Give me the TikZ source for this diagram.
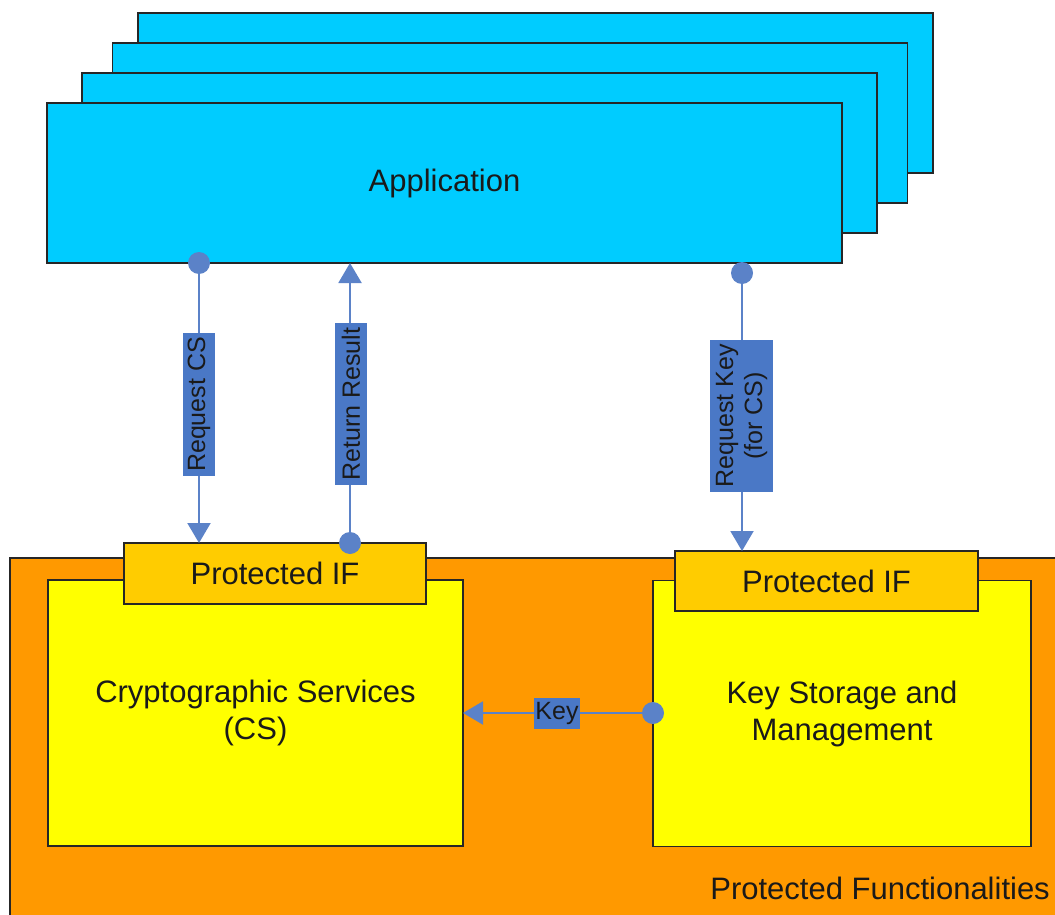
\documentclass[tikz,border=0pt]{standalone}
\usepackage{fontspec}
\setmainfont{Liberation Sans}
\usetikzlibrary{arrows.meta,calc}
\definecolor{appblue}{HTML}{00CCFF}
\definecolor{pforange}{HTML}{FF9900}
\definecolor{csyellow}{HTML}{FFFF00}
\definecolor{ifgold}{HTML}{FFCC00}
\definecolor{conn}{HTML}{5B82C8}
\definecolor{lblbg}{HTML}{4A78C6}
\definecolor{txt}{HTML}{1A1A1A}
\begin{document}
\begin{tikzpicture}[x=1pt,y=-1pt,
  box/.style={draw=black!85, line width=1.5pt, inner sep=0pt, outer sep=0pt, text=txt, align=center,
     font=\fontsize{31}{37}\selectfont},
  appbox/.style={box, fill=appblue, minimum width=795pt, minimum height=160pt},
  ifbox/.style={box, fill=ifgold, minimum width=302pt, minimum height=61pt},
  fbox/.style={box, fill=csyellow, minimum height=266pt},
  conline/.style={draw=conn, line width=2pt, -{Triangle[width=23pt,length=20pt]}},
  lbl/.style={fill=lblbg, text=txt, inner sep=3pt, align=center, font=\fontsize{25}{27}\selectfont},
  dot/.style={fill=conn}
]
\useasboundingbox (0,0) rectangle (1055,915);
\clip (0,0) rectangle (1055,915);
\fill[white] (0,0) rectangle (1055,915);

% stacked applications
\node[appbox] (app4) at (535.5,93) {};
\node[appbox] (app3) at (510,123) {};
\node[appbox] (app2) at (479.5,153) {};
\node[appbox] (app) at (444.5,183) {Application};

% protected functionalities
\node[box, fill=pforange, anchor=north west, minimum width=1070pt, minimum height=380pt] (pf) at (10,558) {};
\node[anchor=east, text=txt, font=\fontsize{31}{37}\selectfont, inner sep=0pt] (pflabel) at (1050,888) {Protected Functionalities};

\node[fbox, minimum width=415pt] (cs) at (255.5,713) {Cryptographic Services\\(CS)};
\node[fbox, minimum width=378pt] (ks) at (842,713.5) {Key Storage and\\Management};
\node[ifbox] (ifL) at (275,573.5) {Protected IF};
\node[ifbox, minimum width=303pt, minimum height=60pt] (ifR) at (826.5,581) {Protected IF};

% x positions of connectors
\coordinate (xa) at (199,0);
\coordinate (xb) at (350,0);
\coordinate (xc) at (742,0);
\coordinate (yk) at (0,713);
\coordinate (kstart) at (742,273);

% Request CS
\draw[conline] (app.south -| xa) -- (ifL.north -| xa);
\fill[dot] (app.south -| xa) circle[radius=11pt];
\node[lbl, rotate=90, minimum width=143pt, minimum height=32pt, inner sep=0pt] (lrcs) at (199,404.5) {Request CS};

% Return Result
\draw[conline] (ifL.north -| xb) -- (app.south -| xb);
\fill[dot] (ifL.north -| xb) circle[radius=11pt];
\node[lbl, rotate=90, minimum width=162pt, minimum height=32pt, inner sep=0pt] (lrr) at (351,404) {Return Result};

% Request Key
\draw[conline] (kstart) -- (ifR.north -| xc);
\fill[dot] (kstart) circle[radius=11pt];
\node[lbl, rotate=90, minimum width=152pt, minimum height=63pt, inner sep=0pt, font=\fontsize{25}{29}\selectfont] (lrk) at (741.5,416) {Request Key\\(for CS)};

% Key
\draw[conline] (ks.west |- yk) -- (cs.east |- yk);
\fill[dot] (ks.west |- yk) circle[radius=11pt];
\node[lbl, minimum width=46pt, minimum height=31pt, inner sep=0pt] (lkey) at (557,713) {Key};
\end{tikzpicture}
\end{document}
